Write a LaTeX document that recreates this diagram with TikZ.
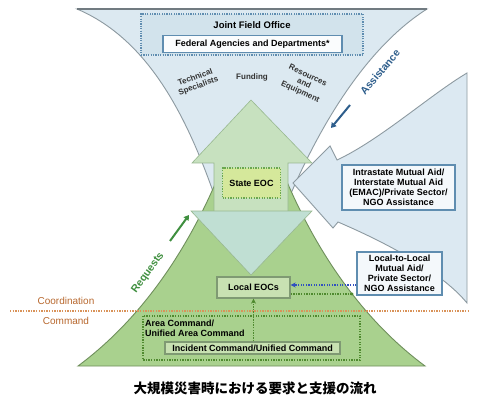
\documentclass[tikz,border=0pt]{standalone}
\usepackage{fontspec}
\setmainfont{Liberation Sans}
\newfontfamily\cjkfont{Noto Sans CJK JP}
\usetikzlibrary{arrows.meta}
\definecolor{funnelfill}{HTML}{DCE9F1}
\definecolor{funneldraw}{HTML}{8D9AA1}
\definecolor{mountfill}{HTML}{A9D18E}
\definecolor{mountdraw}{HTML}{6F8F5C}
\definecolor{arrowgreen}{HTML}{C7E1BF}
\definecolor{arrowgreenline}{HTML}{98B890}
\definecolor{arrowblue}{HTML}{C0DFD3}
\definecolor{rightfill}{HTML}{DCE9F2}
\definecolor{boxblue}{HTML}{5F8DB0}
\definecolor{jfofill}{HTML}{D2E3EC}
\definecolor{statefill}{HTML}{D5E89B}
\definecolor{statedraw}{HTML}{6AA84F}
\definecolor{localfill}{HTML}{C8E1B2}
\definecolor{localdraw}{HTML}{7F9A73}
\definecolor{orangeline}{HTML}{D9935A}
\definecolor{orangetext}{HTML}{B8682E}
\definecolor{reqgreen}{HTML}{3F8F3F}
\definecolor{assblue}{HTML}{2E5E8C}
\definecolor{dotgreen}{HTML}{4F8A2F}
\definecolor{dotblue}{HTML}{3050C0}
\begin{document}
\begin{tikzpicture}[x=1pt,y=-1pt,
  bfnine/.style={font=\fontsize{9}{10}\selectfont\bfseries, align=center},
  bluebox/.style={draw=boxblue, line width=1.2pt, fill=white!70!funnelfill, inner sep=0pt, bfnine},
  greenbox/.style={draw=localdraw, line width=1.3pt, fill=localfill, inner sep=0pt, bfnine},
  labeltxt/.style={font=\fontsize{8}{9}\selectfont\bfseries, align=center, text=black!80},
  greendot/.style={draw=dotgreen, line width=1.3pt, dash pattern=on 1.3pt off 1.3pt},
  bluedot/.style={draw=dotblue, line width=1.3pt, dash pattern=on 1.3pt off 1.3pt},
  bigarrow/.style={line width=2pt, -{Triangle[length=5pt,width=6pt]}}
]
\useasboundingbox (0,0) rectangle (500,414);
\fill[white] (0,0) rectangle (500,414);

% top funnel (federal)
\filldraw[fill=funnelfill, draw=funneldraw, line width=0.9pt]
  (77,9) -- (427,9) .. controls (370,45) and (320,120) .. (282,215)
  -- (221,215) .. controls (190,120) and (150,40) .. (77,9) -- cycle;
\draw[funneldraw!80!black, line width=1.4pt] (77,9) -- (427,9);

% bottom mountain (local)
\filldraw[fill=mountfill, draw=mountdraw, line width=0.9pt]
  (78,366) .. controls (140,320) and (190,250) .. (225,160)
  -- (278,160) .. controls (313,250) and (363,320) .. (425,366) -- cycle;

% right assistance arrow shape
\filldraw[fill=rightfill, draw=funneldraw, line width=0.9pt]
  (467,73) .. controls (430,95) and (380,140) .. (337,160)
  -- (330,146) -- (293,183) -- (333,228) -- (338,222)
  .. controls (380,240) and (440,270) .. (467,303) -- cycle;

% central up arrow (requests)
\filldraw[fill=arrowgreen, draw=arrowgreenline, line width=0.6pt]
  (214,211) -- (214,163) -- (192,163) -- (251,100) -- (312,163) -- (288,163) -- (288,211);
% central down arrow head (assistance)
\filldraw[fill=arrowblue, draw=arrowgreenline, line width=0.6pt]
  (191,211) -- (312,211) -- (251,275) -- cycle;

% Joint Field Office
\node[draw=boxblue, fill=jfofill, line width=1.2pt, dash pattern=on 1.2pt off 1.2pt,
      minimum width=222pt, minimum height=41pt, inner sep=0pt] (jfo) at (252,34.5) {};
\node[font=\fontsize{9.5}{10}\selectfont\bfseries] (jfotitle) at (252,25.5) {Joint Field Office};
\node[bluebox, fill=white!85!funnelfill, minimum width=179pt, minimum height=17pt] (fed) at (252.5,44)
  {Federal Agencies and Departments*};

% resource labels
\node[labeltxt, rotate=20] (tech) at (197,82) {Technical\\Specialists};
\node[labeltxt] (fund) at (252,77) {Funding};
\node[labeltxt, rotate=-25] (res) at (304,84) {Resources\\and\\Equipment};

% State EOC
\node[draw=statedraw, fill=statefill, line width=1.3pt, dash pattern=on 1.3pt off 1.3pt,
      minimum width=58pt, minimum height=30pt, inner sep=0pt, bfnine] (state) at (251.5,183) {State EOC};

% Intrastate box
\node[bluebox, minimum width=113pt, minimum height=45pt] (intra) at (398.5,187.5)
  {Intrastate Mutual Aid/\\Interstate Mutual Aid\\(EMAC)/Private Sector/\\NGO Assistance};

% Local-to-Local box
\node[bluebox, minimum width=85pt, minimum height=43pt] (l2l) at (399.5,273.5)
  {Local-to-Local\\Mutual Aid/\\Private Sector/\\NGO Assistance};

% Local EOCs
\node[greenbox, minimum width=73pt, minimum height=21pt] (leoc) at (253.5,287.5) {Local EOCs};

% Coordination / Command divider
\draw[orangeline, line width=1.3pt, dash pattern=on 1.3pt off 1.3pt] (10,311) -- (468,311);
\node[text=orangetext, font=\fontsize{10}{11}\selectfont] (coord) at (66,301) {Coordination};
\node[text=orangetext, font=\fontsize{10}{11}\selectfont] (cmd) at (66,321) {Command};

% Area command dotted box
\draw[greendot] (143,316) rectangle (360,360);
\node[bfnine, align=left, anchor=west, inner sep=0pt] (area) at (145,328.5)
  {Area Command/\\Unified Area Command};

% Incident command
\node[greenbox, minimum width=175pt, minimum height=12pt] (inc) at (252.5,348)
  {Incident Command/Unified Command};

% dotted connectors
\coordinate (gdEnd) at (352,294);
\draw[greendot] (leoc.east |- gdEnd) -- (gdEnd);
\fill[dotgreen] (gdEnd) circle (1.6pt);
\draw[bluedot, -{Stealth[length=5pt,width=5pt]}] (l2l.west |- 0,285) -- (leoc.east |- 0,285);
\draw[greendot, -{Stealth[length=5pt,width=5pt]}] (inc.north -| leoc.south) -- (leoc.south);

% Assistance / Requests
\node[text=assblue, font=\fontsize{10.5}{11}\selectfont\bfseries, rotate=50] (assist) at (380,72) {Assistance};
\coordinate (asA) at (350,105);
\coordinate (asB) at (331,128);
\draw[assblue, bigarrow] (asA) -- (asB);
\node[text=reqgreen, font=\fontsize{10.5}{11}\selectfont\bfseries, rotate=54] (req) at (148,273) {Requests};
\coordinate (reqA) at (170,241);
\coordinate (reqB) at (189,215);
\draw[reqgreen, bigarrow] (reqA) -- (reqB);

% caption
\node[font=\cjkfont\bfseries\fontsize{13.5}{14}\selectfont] (cap) at (255,388) {大規模災害時における要求と支援の流れ};
\end{tikzpicture}
\end{document}
